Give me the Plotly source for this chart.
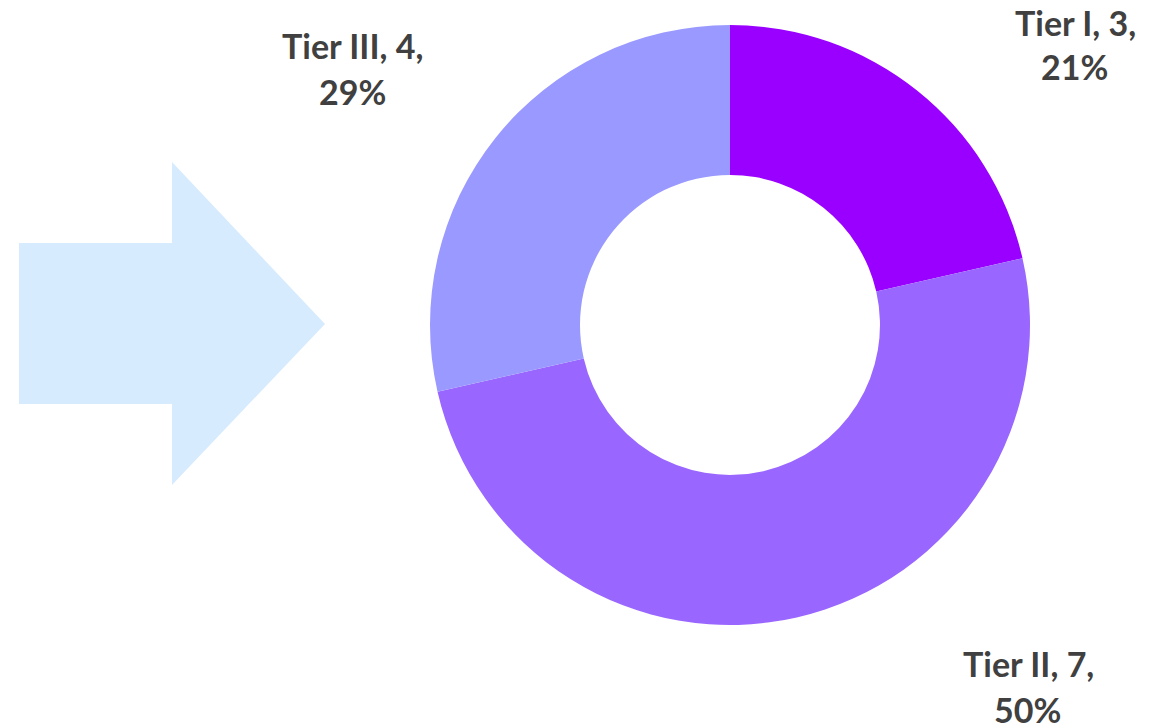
import plotly.graph_objects as go

W, H = 1156, 723

labels = ["Tier I", "Tier II", "Tier III"]
values = [3, 7, 4]
colors = ["#9900FF", "#9966FF", "#9999FF"]

# label line centres in pixels (style/placement)
label_pos = {
    "Tier I": [(1075, 22), (1074, 66)],
    "Tier II": [(1028, 663), (1027, 709)],
    "Tier III": [(352, 45), (352, 91)],
}

def px(x):
    return x / W

def py(y):
    return 1 - y / H

total = sum(values)

fig = go.Figure()
fig.add_trace(go.Pie(
    labels=labels,
    values=values,
    hole=0.5,
    sort=False,
    direction="clockwise",
    rotation=0,
    marker=dict(colors=colors, line=dict(width=0)),
    textinfo="none",
    hoverinfo="label+value+percent",
    showlegend=False,
    domain=dict(x=[px(430), px(1030)], y=[py(625), py(25)]),
))

annotations = []
for lab, val in zip(labels, values):
    pct = round(100 * val / total)
    lines = [f"{lab}, {val},", f"{pct}%"]
    for txt, (x, y) in zip(lines, label_pos[lab]):
        annotations.append(dict(
            x=px(x), y=py(y), xref="paper", yref="paper",
            text=f"<b>{txt}</b>", showarrow=False,
            xanchor="center", yanchor="middle",
            font=dict(family="Lato", size=34, color="#404040"),
        ))

arrow_path = (f"M {px(19)} {py(243)} L {px(172)} {py(243)} L {px(172)} {py(162)} "
              f"L {px(325)} {py(324)} L {px(172)} {py(485)} L {px(172)} {py(404)} "
              f"L {px(19)} {py(404)} Z")

fig.update_layout(
    width=W, height=H,
    margin=dict(l=0, r=0, t=0, b=0),
    paper_bgcolor="white",
    plot_bgcolor="white",
    annotations=annotations,
    shapes=[dict(type="path", xref="paper", yref="paper", path=arrow_path,
                 fillcolor="#D7EBFE", line=dict(width=0), layer="below")],
)

fig.write_html("out.html", config={"displayModeBar": False},
               post_script="document.body.style.margin='0';document.body.style.overflow='hidden';")
